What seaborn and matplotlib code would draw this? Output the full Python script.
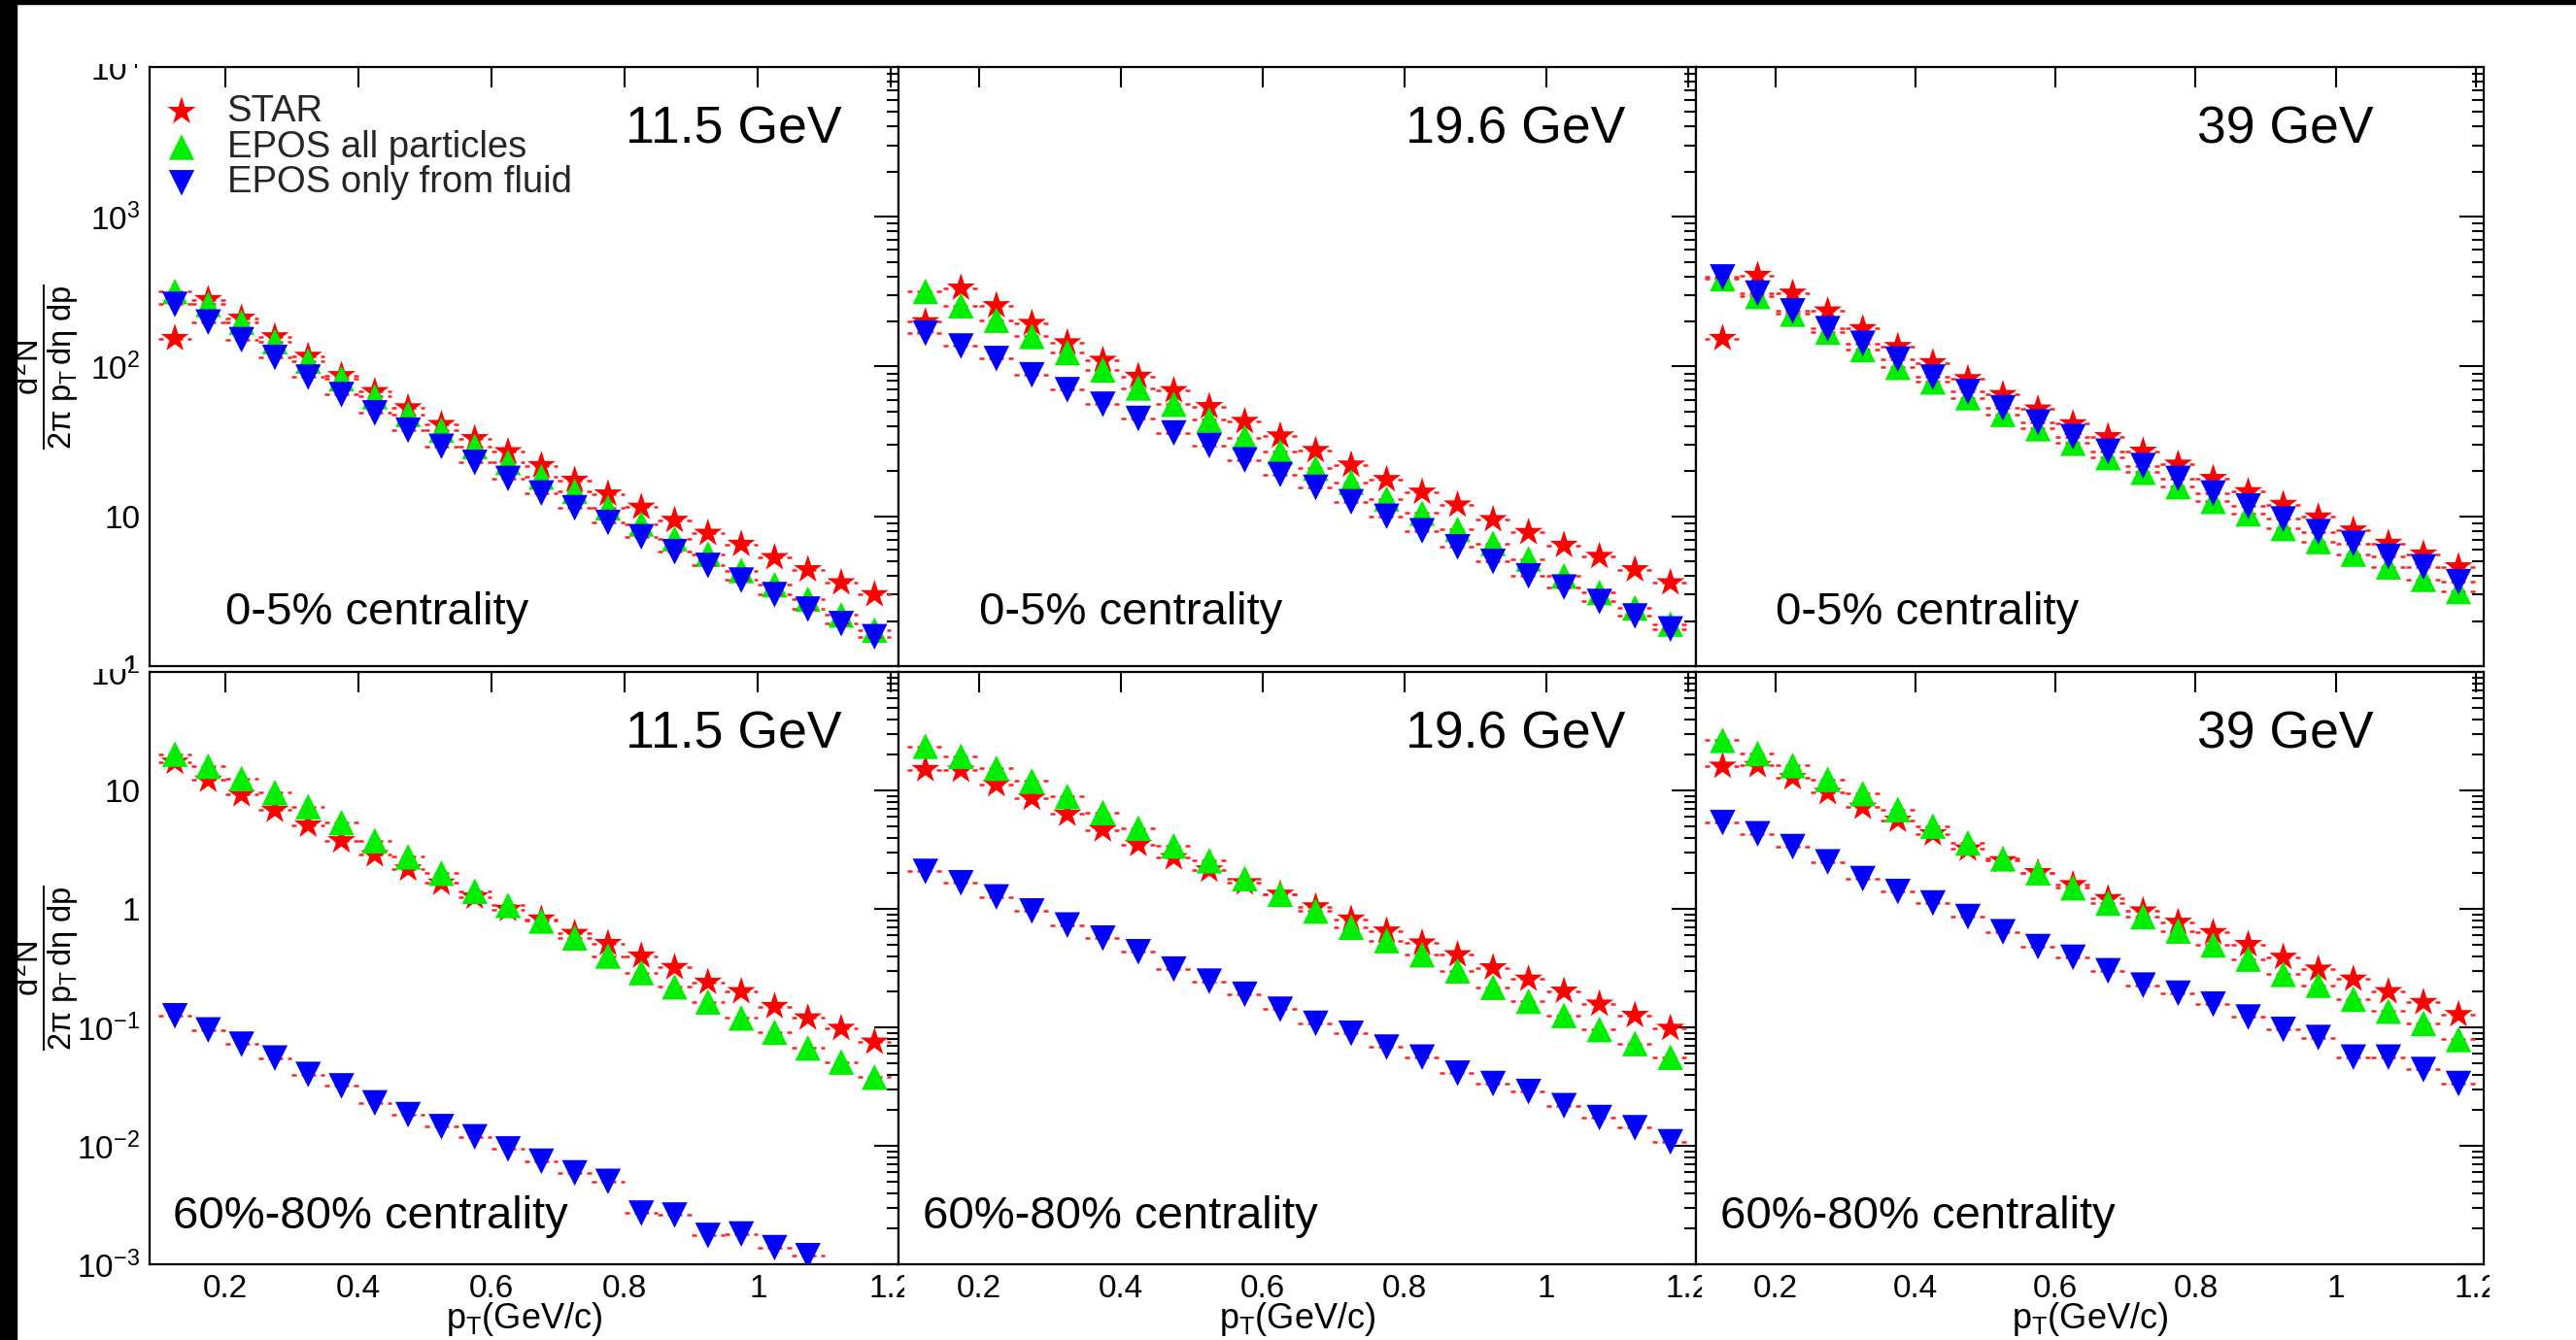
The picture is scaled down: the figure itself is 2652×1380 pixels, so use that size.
import numpy as np
import pandas as pd
import matplotlib
matplotlib.use("Agg")
import matplotlib.pyplot as plt
import seaborn as sns
from matplotlib.ticker import FixedLocator, FixedFormatter, LogLocator, NullFormatter
from matplotlib.transforms import Bbox, TransformedBbox
from matplotlib.patches import Rectangle

# ---------------- data ----------------
pt = [0.125, 0.175, 0.225, 0.275, 0.325, 0.375, 0.425, 0.475, 0.525, 0.575, 0.625,
      0.675, 0.725, 0.775, 0.825, 0.875, 0.925, 0.975, 1.025, 1.075, 1.125, 1.175]

energies = ["11.5 GeV", "19.6 GeV", "39 GeV"]
centralities = ["0-5% centrality", "60%-80% centrality"]
series_names = ["STAR", "EPOS all particles", "EPOS only from fluid"]

# 0-5% centrality
star_c05_11 = [154, 280, 210, 158, 117, 87, 68, 53, 41, 33, 27, 21.8, 17.4, 14.1, 11.5, 9.4, 7.7, 6.5, 5.3, 4.4, 3.6, 3.0]
all_c05_11 = [317, 260, 198, 147, 109, 83, 63, 48, 37.6, 29.3, 22.9, 18.3, 14.7, 11.4, 8.9, 7.1, 5.6, 4.35, 3.5, 2.8, 2.2, 1.74]
fluid_c05_11 = [260, 198, 151, 115, 85, 65, 49, 37.6, 29.3, 22.9, 17.9, 14.3, 11.4, 9.1, 7.3, 5.8, 4.7, 3.75, 3.0, 2.4, 1.92, 1.57]

star_c05_19 = [199, 334, 255, 194, 144, 110, 86, 69, 54, 43, 34.4, 27.5, 22, 17.6, 14.5, 11.9, 9.5, 7.8, 6.4, 5.4, 4.4, 3.6]
all_c05_19 = [318, 255, 204, 159, 124, 95, 72, 56, 44, 33.6, 26.9, 21, 16.9, 13.1, 10.5, 8.2, 6.6, 5.2, 4.0, 3.1, 2.45, 1.91]
fluid_c05_19 = [167, 137, 113, 88, 70, 56, 45, 36, 29.7, 23.8, 19.0, 15.6, 12.5, 10, 8.0, 6.25, 5.0, 4.0, 3.37, 2.70, 2.16, 1.77]

star_c05_39 = [154, 406, 309, 235, 179, 136, 106, 83, 65, 52, 41.5, 34, 27.2, 22.3, 17.9, 14.6, 12.0, 9.9, 8.1, 6.6, 5.6, 4.6]
all_c05_39 = [386, 294, 224, 170, 130, 99, 79, 62, 48, 38.5, 30.8, 24.7, 19.7, 15.8, 12.6, 10.4, 8.3, 6.8, 5.6, 4.6, 3.8, 3.15]
fluid_c05_39 = [396, 309, 235, 179, 143, 112, 85, 68, 53, 42.6, 34, 27.2, 21.8, 17.9, 14.3, 11.7, 9.6, 7.9, 6.6, 5.4, 4.6, 3.66]

# 60%-80% centrality
star_c6080_11 = [17.3, 12.2, 9.2, 6.8, 5.1, 3.76, 2.86, 2.17, 1.65, 1.26, 0.99, 0.82, 0.62, 0.51, 0.40, 0.32, 0.24, 0.20, 0.15, 0.12, 0.098, 0.075]
all_c6080_11 = [20.2, 16, 12.6, 9.6, 7.3, 5.35, 3.76, 2.75, 2.0, 1.41, 1.07, 0.79, 0.57, 0.40, 0.29, 0.22, 0.164, 0.12, 0.091, 0.067, 0.051, 0.038]
fluid_c6080_11 = [0.125, 0.095, 0.072, 0.055, 0.040, 0.032, 0.023, 0.0183, 0.0145, 0.0119, 0.0094, 0.0074, 0.0059, 0.0050,
                  0.0027, 0.0026, 0.00175, 0.0018, 0.00138, 0.00118, np.nan, np.nan]

star_c6080_19 = [15.0, 14.8, 11.2, 8.6, 6.3, 4.65, 3.5, 2.7, 2.13, 1.66, 1.33, 1.04, 0.82, 0.65, 0.515, 0.41, 0.318, 0.255, 0.202, 0.157, 0.126, 0.098]
all_c6080_19 = [23.6, 19.4, 15.4, 12.0, 8.9, 6.5, 4.8, 3.4, 2.55, 1.80, 1.33, 0.96, 0.70, 0.54, 0.41, 0.30, 0.218, 0.166, 0.126, 0.096, 0.073, 0.056]
fluid_c6080_19 = [2.07, 1.66, 1.26, 0.96, 0.73, 0.566, 0.434, 0.31, 0.245, 0.19, 0.142, 0.108, 0.089, 0.068, 0.056, 0.041, 0.0335, 0.0287, 0.0218, 0.0173, 0.0142, 0.0108]

star_c6080_39 = [16.0, 16.2, 12.8, 9.6, 7.2, 5.6, 4.3, 3.2, 2.55, 2.02, 1.6, 1.22, 0.96, 0.77, 0.63, 0.50, 0.39, 0.31, 0.255, 0.20, 0.162, 0.128]
all_c6080_39 = [26.5, 20.5, 16.2, 12.4, 9.4, 6.9, 5.0, 3.6, 2.65, 2.02, 1.51, 1.12, 0.86, 0.65, 0.496, 0.377, 0.28, 0.227, 0.173, 0.137, 0.108, 0.079]
fluid_c6080_39 = [5.35, 4.3, 3.35, 2.49, 1.8, 1.40, 1.12, 0.86, 0.64, 0.48, 0.39, 0.30, 0.227, 0.194, 0.157, 0.122, 0.096, 0.082, 0.056, 0.056, 0.044, 0.0335]

panels = [
    [(star_c05_11, all_c05_11, fluid_c05_11), (star_c05_19, all_c05_19, fluid_c05_19), (star_c05_39, all_c05_39, fluid_c05_39)],
    [(star_c6080_11, all_c6080_11, fluid_c6080_11), (star_c6080_19, all_c6080_19, fluid_c6080_19), (star_c6080_39, all_c6080_39, fluid_c6080_39)],
]

x_ticks = [0.2, 0.4, 0.6, 0.8, 1.0, 1.2]
x_tick_labels = ["0.2", "0.4", "0.6", "0.8", "1", "1.2"]
y_ticks_top = [1, 10, 100, 1000, 10000]
y_labels_top = ["1", "10", r"$10^{2}$", r"$10^{3}$", r"$10^{4}$"]
y_ticks_bot = [1e-3, 1e-2, 1e-1, 1, 10, 100]
y_labels_bot = [r"$10^{-3}$", r"$10^{-2}$", r"$10^{-1}$", "1", "10", r"$10^{2}$"]

# ---------------- style ----------------
sns.set_theme(style="white")
plt.rcParams["font.family"] = ["Liberation Sans", "DejaVu Sans"]
plt.rcParams["mathtext.fontset"] = "custom"
plt.rcParams["mathtext.rm"] = "Liberation Sans"
plt.rcParams["mathtext.it"] = "Liberation Sans"
plt.rcParams["mathtext.bf"] = "Liberation Sans:bold"
plt.rcParams["axes.unicode_minus"] = True

W, H = 2652, 1380
fig = plt.figure(figsize=(W / 100, H / 100), dpi=100)
fig.patch.set_facecolor("white")
fig.patches.append(Rectangle((0, 0), 17 / W, 1, transform=fig.transFigure, color="black", zorder=-10))
fig.patches.append(Rectangle((0, 1 - 4 / H), 1, 4 / H, transform=fig.transFigure, color="black", zorder=-10))

cols = [(154, 925), (925, 1746), (1746, 2557)]
rows = [(69, 686), (692, 1302)]
ylims = [(1, 1e4), (1e-3, 1e2)]

colors = ["#ff0000", "#00ee00", "#0000ff"]
markers = ["*", "^", "v"]
msizes = [22 ** 2, 19 ** 2, 19 ** 2]


def clip_to(texts, x0, y0, x1, y1):
    bb = Bbox.from_extents(x0 / W, 1 - y1 / H, x1 / W, 1 - y0 / H)
    tb = TransformedBbox(bb, fig.transFigure)
    for t in texts:
        t.set_clip_box(tb)
        t.set_clip_on(True)


axes = []
for r, (yt, yb) in enumerate(rows):
    for c, (xl, xr) in enumerate(cols):
        ax = fig.add_axes([xl / W, 1 - yb / H, (xr - xl) / W, (yb - yt) / H])
        axes.append(ax)
        handles = []
        for k, vals in enumerate(panels[r][c]):
            df = pd.DataFrame({"pt": pt, "y": vals})
            eb = ax.errorbar(df["pt"], df["y"], xerr=0.025, fmt="none", ecolor="#ff2020",
                             elinewidth=1.8, capsize=0, zorder=2 + 2 * k)
            eb[2][0].set_linestyle((0, (2.0, 2.0)))
            sns.scatterplot(data=df, x="pt", y="y", marker=markers[k], color=colors[k],
                            s=msizes[k], linewidth=0, edgecolor="none", ax=ax, legend=False,
                            zorder=3 + 2 * k)
            handles.append(ax.collections[-1])
        ax.set_yscale("log")
        ax.set_xlim(0.087, 1.211)
        ax.set_ylim(*ylims[r])
        ax.set_xlabel("")
        ax.set_ylabel("")
        for s in ax.spines.values():
            s.set_linewidth(1.6)
            s.set_color("black")
        ax.xaxis.set_major_locator(FixedLocator(x_ticks))
        ax.xaxis.set_minor_locator(FixedLocator([]))
        yt_list = y_ticks_top if r == 0 else y_ticks_bot
        yl_list = y_labels_top if r == 0 else y_labels_bot
        ax.yaxis.set_major_locator(FixedLocator(yt_list))
        ax.yaxis.set_minor_locator(LogLocator(base=10, subs=np.arange(2, 10), numticks=20))
        ax.yaxis.set_minor_formatter(NullFormatter())
        ax.tick_params(axis="both", which="both", direction="in", top=True, right=True,
                       width=1.5, colors="black", labelsize=24, pad=7)
        ax.tick_params(axis="y", which="major", length=18)
        ax.tick_params(axis="y", which="minor", length=9)
        ax.tick_params(axis="x", which="major", length=15)
        if r == 1:
            ax.xaxis.set_major_formatter(FixedFormatter(x_tick_labels))
            clip_to(ax.get_xticklabels(), xl - 5, 1303, xr + 6, H)
        else:
            ax.set_xticklabels([])
        if c == 0:
            ax.yaxis.set_major_formatter(FixedFormatter(yl_list))
            if r == 0:
                clip_to(ax.get_yticklabels(), 17, 66, xl, 689)
            else:
                clip_to(ax.get_yticklabels(), 17, 689, xl, H)
        else:
            ax.set_yticklabels([])
        ax.text(0.636, 0.872, energies[c], transform=ax.transAxes, ha="left", va="baseline",
                fontsize=38.5, color="black", zorder=10)
        if r == 0:
            ax.text(0.101, 0.07, centralities[r], transform=ax.transAxes, ha="left",
                    va="baseline", fontsize=34, color="black", zorder=10)
        else:
            ax.text(0.031, 0.061, centralities[r], transform=ax.transAxes, ha="left",
                    va="baseline", fontsize=34, color="black", zorder=10)
        if r == 0 and c == 0:
            ax.legend(handles=handles, labels=series_names, loc="upper left",
                      bbox_to_anchor=(0.018, 0.955), frameon=False, fontsize=27.5,
                      borderpad=0, borderaxespad=0, handlelength=1.0, handletextpad=0.72,
                      labelspacing=0.02, scatterpoints=1)

# axis titles
ylab = r"$\dfrac{d^{2}N}{2\pi\ p_{T}\,d\eta\ dp}$"
for (yt, yb) in rows:
    fig.text(46 / W, 1 - (yt + yb) / 2 / H, ylab, rotation=90, ha="center", va="center",
             fontsize=23.5, color="black")
for (xl, xr) in cols:
    fig.text((xl + xr) / 2 / W, 2 / H, r"p$_{T}$(GeV/c)", ha="center", va="bottom",
             fontsize=26, color="black")

fig.savefig("out.png", dpi=100, facecolor="white")
